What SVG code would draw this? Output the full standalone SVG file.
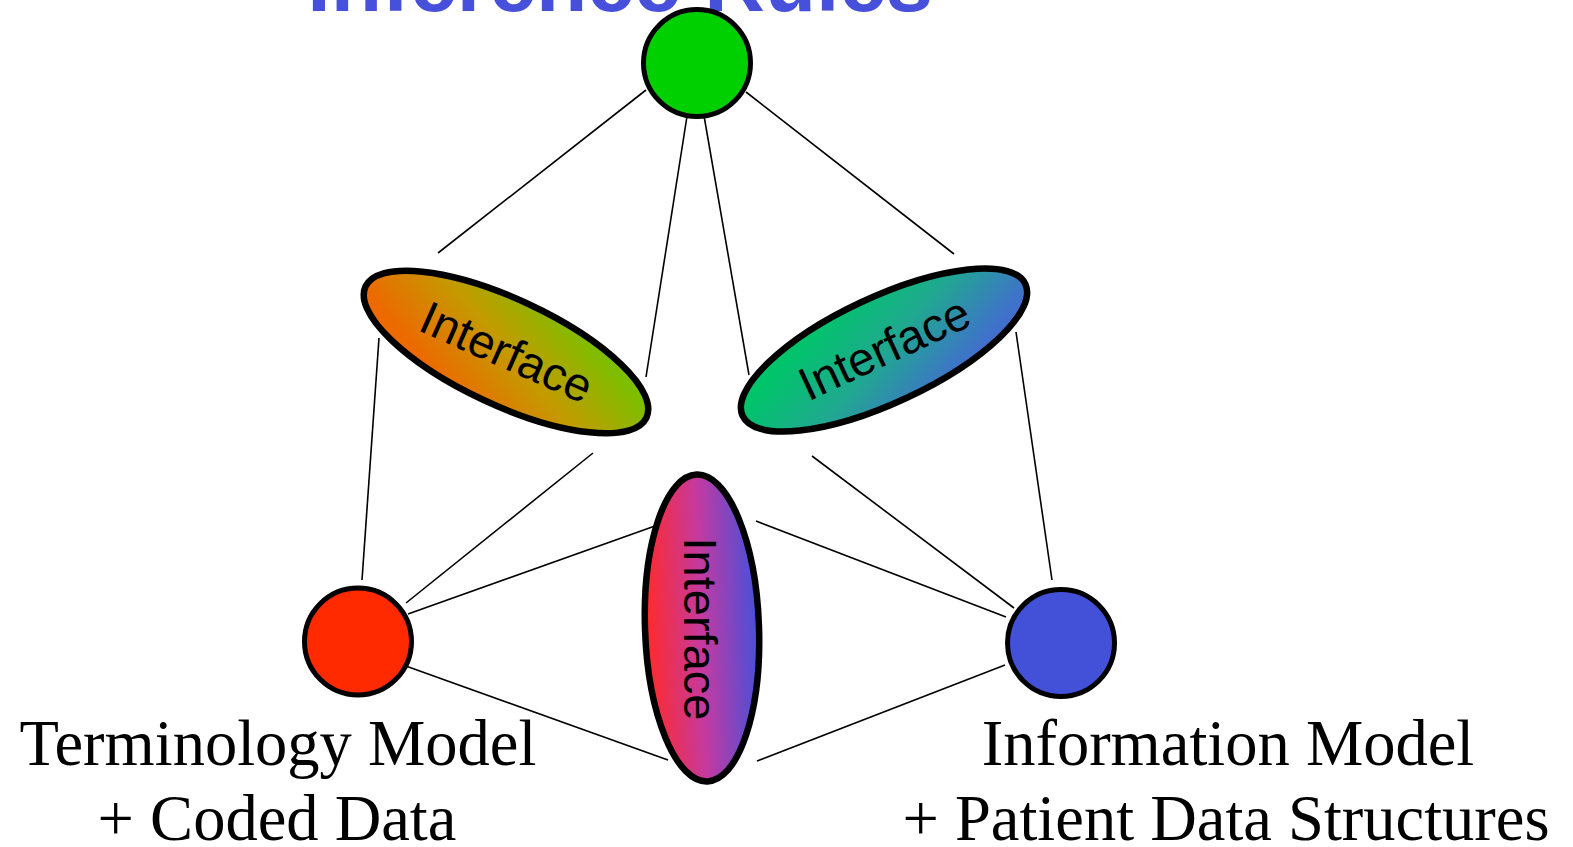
<svg xmlns="http://www.w3.org/2000/svg" width="1573" height="847" viewBox="0 0 1573 847">
<style>
.title{font-family:"Liberation Sans",Arial,sans-serif;font-weight:bold;font-size:84px;fill:#4650DA}
.lbl{font-family:"Liberation Serif","Times New Roman",serif;font-size:64.5px;fill:#000;text-anchor:middle}
.itf{font-family:"Liberation Sans",Arial,sans-serif;font-size:47px;fill:#000;text-anchor:middle}
.conn line{stroke:#000;stroke-width:1.6;fill:none}
.node{stroke:#000;stroke-width:5}
.ell{stroke:#000;stroke-width:6.5}
</style>
<defs>
<linearGradient id="gL" gradientUnits="userSpaceOnUse" x1="478" y1="415" x2="540" y2="288">
<stop offset="0" stop-color="#EC6A00"/>
<stop offset="0.5" stop-color="#C49A00"/>
<stop offset="1" stop-color="#7EBE00"/>
</linearGradient>
<linearGradient id="gR" gradientUnits="userSpaceOnUse" x1="855" y1="287" x2="915" y2="415">
<stop offset="0" stop-color="#00C46A"/>
<stop offset="0.5" stop-color="#20A890"/>
<stop offset="1" stop-color="#4070CC"/>
</linearGradient>
<linearGradient id="gB" gradientUnits="userSpaceOnUse" x1="646" y1="0" x2="758" y2="0">
<stop offset="0" stop-color="#FF2A2A"/>
<stop offset="0.5" stop-color="#C43AA0"/>
<stop offset="1" stop-color="#4650DA"/>
</linearGradient>
</defs>
<rect width="1573" height="847" fill="#fff"/>
<text class="title" x="256" y="11">- Inference Rules</text>
<g id="connectors" class="conn">
<line x1="646" y1="90" x2="438" y2="253"/>
<line x1="688" y1="110" x2="646" y2="377"/>
<line x1="703" y1="110" x2="749" y2="375"/>
<line x1="746" y1="92" x2="954" y2="254"/>
<line x1="379" y1="338" x2="362" y2="580"/>
<line x1="593" y1="453" x2="406" y2="603"/>
<line x1="669" y1="521" x2="408" y2="614"/>
<line x1="403" y1="665" x2="668" y2="760"/>
<line x1="1016" y1="332" x2="1052" y2="580"/>
<line x1="812" y1="456" x2="1014" y2="608"/>
<line x1="756" y1="521" x2="1006" y2="617"/>
<line x1="757" y1="761" x2="1005" y2="665"/>
</g>
<g id="node-top">
<circle class="node" cx="697" cy="63" r="53.5" fill="#00D000"/>
</g>
<g id="node-terminology">
<circle class="node" cx="358" cy="641.5" r="53.5" fill="#FF2A00"/>
<text class="lbl" x="278" y="765">Terminology Model</text>
<text class="lbl" x="277" y="840">+ Coded Data</text>
</g>
<g id="node-information">
<circle class="node" cx="1061" cy="643" r="53.5" fill="#4350D8"/>
<text class="lbl" x="1228" y="765">Information Model</text>
<text class="lbl" x="1226" y="840">+ Patient Data Structures</text>
</g>
<g id="interface-left">
<ellipse class="ell" cx="506" cy="352" rx="155" ry="53" transform="rotate(25 506 352)" fill="url(#gL)"/>
<text class="itf" transform="translate(500 367) rotate(24)">Interface</text>
</g>
<g id="interface-right">
<ellipse class="ell" cx="884" cy="350" rx="156" ry="53" transform="rotate(-25 884 350)" fill="url(#gR)"/>
<text class="itf" transform="translate(891 363) rotate(-25)">Interface</text>
</g>
<g id="interface-bottom">
<ellipse class="ell" cx="702" cy="628" rx="57" ry="153.5" transform="rotate(-2 702 628)" fill="url(#gB)"/>
<text class="itf" transform="translate(684 629) rotate(90)">Interface</text>
</g>
</svg>
